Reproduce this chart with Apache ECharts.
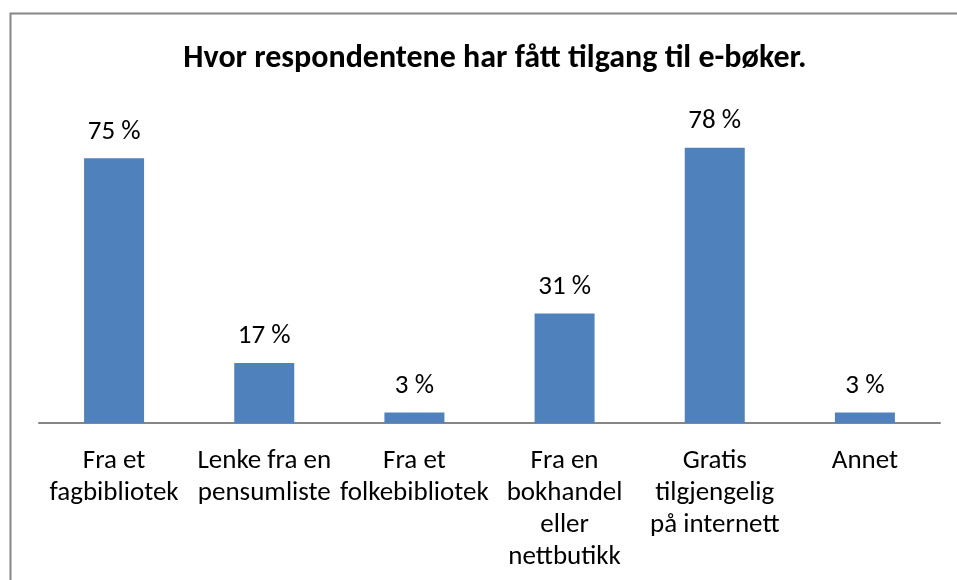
<!DOCTYPE html>
<html lang="no" style="height: 100%">
<head>
    <meta charset="UTF-8">
    <title>e-bøker</title>
    <script type="text/javascript" src="https://cdn.jsdelivr.net/npm/echarts@6/dist/echarts.min.js"></script>
</head>
<body style="height: 100%; margin: 0; background: #fff; overflow: hidden">
    <div id="container" style="width: 957px; height: 580px"></div>
    <script type="text/javascript">
    var categories = [
        'Fra et\nfagbibliotek',
        'Lenke fra en\npensumliste',
        'Fra et\nfolkebibliotek',
        'Fra en\nbokhandel\neller\nnettbutikk',
        'Gratis\ntilgjengelig\npå internett',
        'Annet'
    ];
    var values = [75, 17, 3, 31, 78, 3];
    var titleText = 'Hvor respondentene har fått tilgang til e-bøker.';

    var font = 'Carlito, "Open Sans", sans-serif';
    var myChart = echarts.init(document.getElementById('container'));

    var option = {
        backgroundColor: '#fff',
        animation: false,
        graphic: [{
            // frame: only the left and top edges show in the picture
            type: 'polyline',
            shape: { points: [[10.5, 580], [10.5, 13.5], [957, 13.5]] },
            style: { fill: 'none', stroke: '#868686', lineWidth: 2 },
            silent: true
        }],
        title: {
            text: titleText,
            left: 490,
            top: 38,
            textAlign: 'center',
            textStyle: {
                fontFamily: font,
                fontSize: 32,
                fontWeight: 'bold',
                color: '#000'
            }
        },
        grid: {
            left: 39,
            right: 17,
            top: 70,
            bottom: 157
        },
        xAxis: {
            type: 'category',
            data: categories,
            axisLine: { lineStyle: { color: '#868686', width: 2 } },
            axisTick: { show: false },
            axisLabel: {
                interval: 0,
                margin: 22,
                fontFamily: font,
                fontSize: 27,
                lineHeight: 32,
                color: '#000',
                align: 'center'
            }
        },
        yAxis: {
            type: 'value',
            min: 0,
            max: 100,
            show: false,
            splitLine: { show: false }
        },
        series: [{
            type: 'bar',
            data: values,
            barWidth: 60,
            itemStyle: { color: '#4f81bd' },
            label: {
                show: true,
                position: 'top',
                distance: 13,
                formatter: '{c} %',
                fontFamily: font,
                fontSize: 27,
                color: '#000'
            }
        }]
    };

    myChart.setOption(option);
    </script>
</body>
</html>
